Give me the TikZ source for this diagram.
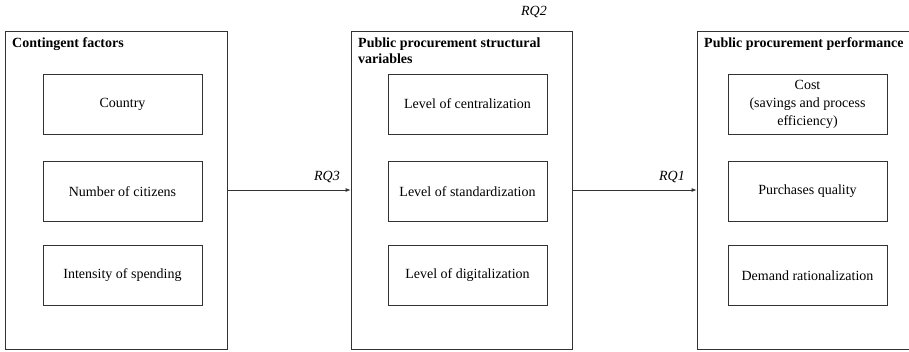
\documentclass[tikz,border=0pt]{standalone}
\usepackage{fontspec}
\setmainfont{Liberation Serif}
\usetikzlibrary{arrows.meta}
\begin{document}
\begin{tikzpicture}[x=1pt,y=-1pt,
  every node/.style={font=\fontsize{14}{17.5}\selectfont},
  outerbox/.style={draw=black!80, line width=0.8pt, minimum height=318pt, inner sep=0pt},
  itembox/.style={draw=black!80, line width=0.8pt, minimum width=159pt, minimum height=60pt, align=center, inner sep=2pt},
  titletext/.style={font=\fontsize{14}{16.5}\selectfont\bfseries, anchor=north west, inner sep=0pt, align=left},
  rqtext/.style={font=\fontsize{14}{17}\selectfont\itshape, inner sep=0pt},
  arr/.style={draw=black!80, line width=0.8pt, -{Latex[length=5pt,width=4pt]}}
]
\useasboundingbox (0,0) rectangle (909,351);
\clip (0,0) rectangle (909,351);
\fill[white] (0,0) rectangle (909,351);

% outer boxes
\node[outerbox, minimum width=222pt] (cf) at (116,190) {};
\node[outerbox, minimum width=221pt] (pv) at (461.5,190) {};
\node[outerbox, minimum width=221pt] (pp) at (807.5,190) {};

% titles
\node[titletext] (cft) at (12,37.5) {Contingent factors};
\node[titletext] (pvt) at (358,37.5) {Public procurement structural\\variables};
\node[titletext] (ppt) at (704,37.5) {Public procurement performance};

% inner boxes
\node[itembox] (c1) at (122.5,104) {Country};
\node[itembox] (c2) at (122.5,191.5) {Number of citizens};
\node[itembox] (c3) at (122.5,275.5) {Intensity of spending};

\node[itembox] (v1) at (467.5,104) {Level of centralization};
\node[itembox] (v2) at (467.5,191.5) {Level of standardization};
\node[itembox] (v3) at (467.5,275.5) {Level of digitalization};

\node[itembox, font=\fontsize{14}{18}\selectfont] (p1) at (807.5,104) {Cost\\(savings and process\\efficiency)};
\node[itembox] (p2) at (807.5,191.5) {Purchases quality};
\node[itembox] (p3) at (807.5,275.5) {Demand rationalization};

% arrows
\draw[arr] (cf.east) -- (pv.west);
\draw[arr] (pv.east) -- (pp.west);

% labels
\node[rqtext] (rq3) at (327,177) {RQ3};
\node[rqtext] (rq1) at (672,177) {RQ1};
\node[rqtext] (rq2) at (534,12) {RQ2};
\end{tikzpicture}
\end{document}
